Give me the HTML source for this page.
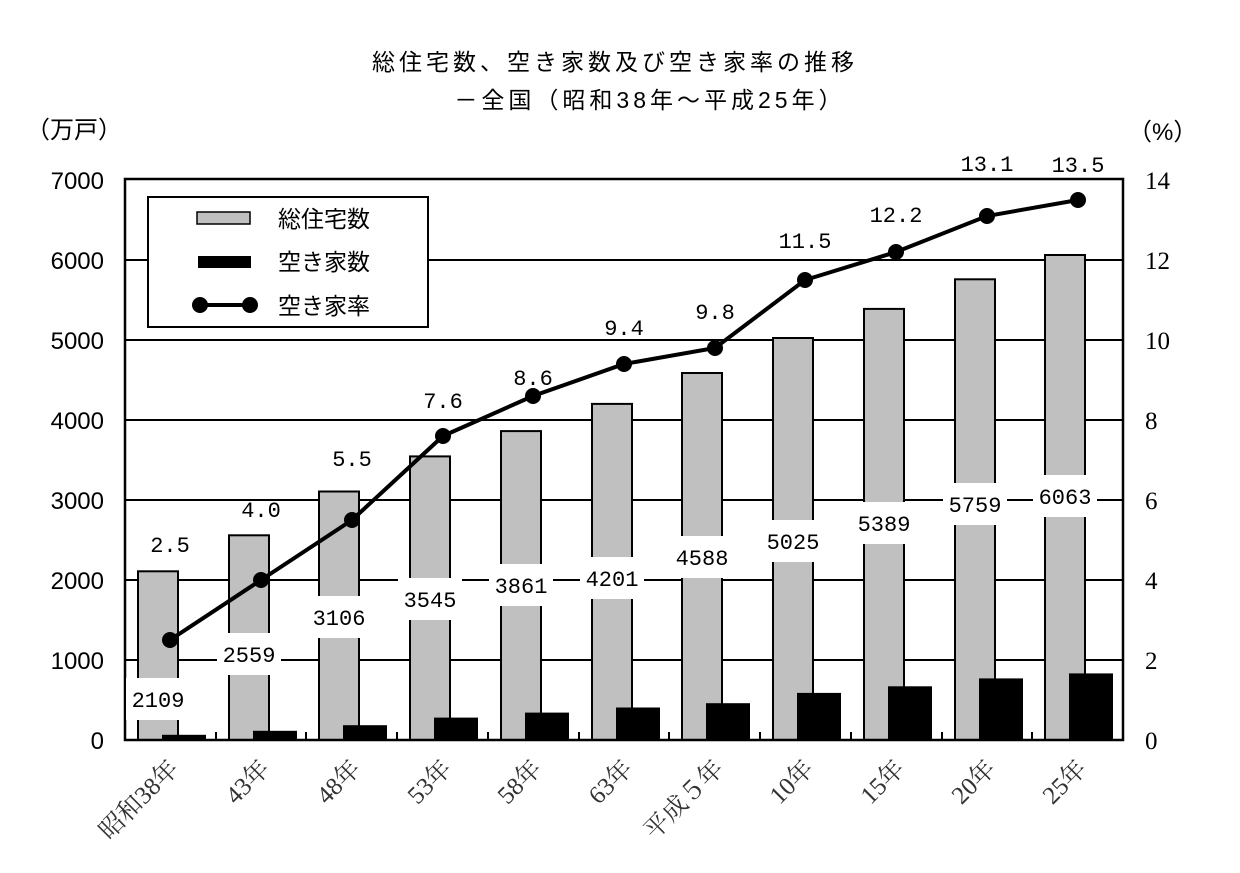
<!DOCTYPE html>
<html><head><meta charset="utf-8"><style>body{margin:0;background:#fff}svg{display:block}</style></head><body>
<svg width="1240" height="873" xmlns="http://www.w3.org/2000/svg" font-family="'Liberation Sans','Noto Sans CJK JP',sans-serif">
<rect width="1240" height="873" fill="#fff"/>
<text x="615" y="70" font-size="23" letter-spacing="4" text-anchor="middle">総住宅数、空き家数及び空き家率の推移</text>
<text x="650" y="108" font-size="23" letter-spacing="4" text-anchor="middle">－全国（昭和38年～平成25年）</text>
<text x="26" y="138" font-size="24">（万戸）</text>
<text x="1128" y="140" font-size="24">（%）</text>
<g font-size="24" text-anchor="end" font-family="'Liberation Sans Narrow','Liberation Sans',sans-serif">
<text x="104" y="749">0</text><text x="104" y="669">1000</text><text x="104" y="589">2000</text><text x="104" y="509">3000</text><text x="104" y="429">4000</text><text x="104" y="349">5000</text><text x="104" y="269">6000</text><text x="104" y="189">7000</text>
</g>
<g font-size="25" font-family="'Liberation Serif','Noto Serif CJK SC',serif">
<text x="1145" y="749">0</text><text x="1145" y="669">2</text><text x="1145" y="589">4</text><text x="1145" y="509">6</text><text x="1145" y="429">8</text><text x="1145" y="349">10</text><text x="1145" y="269">12</text><text x="1145" y="189">14</text>
</g>
<g stroke="#000" stroke-width="2">
<line x1="125" y1="660" x2="1123" y2="660"/><line x1="125" y1="580" x2="1123" y2="580"/><line x1="125" y1="500" x2="1123" y2="500"/><line x1="125" y1="420" x2="1123" y2="420"/><line x1="125" y1="340" x2="1123" y2="340"/><line x1="125" y1="260" x2="1123" y2="260"/>
</g>
<g stroke="#000" stroke-width="2" fill="#c0c0c0">
<rect x="138" y="571.3" width="40" height="168.7"/>
<rect x="229" y="535.3" width="40" height="204.7"/>
<rect x="319" y="491.5" width="40" height="248.5"/>
<rect x="410" y="456.4" width="40" height="283.6"/>
<rect x="501" y="431.1" width="40" height="308.9"/>
<rect x="592" y="403.9" width="40" height="336.1"/>
<rect x="682" y="373" width="40" height="367"/>
<rect x="773" y="338" width="40" height="402"/>
<rect x="864" y="308.9" width="40" height="431.1"/>
<rect x="955" y="279.3" width="40" height="460.7"/>
<rect x="1045" y="255" width="40" height="485"/>
</g>
<g stroke="#000" stroke-width="2" fill="#000">
<rect x="163" y="735.8" width="42" height="4.2"/>
<rect x="254" y="731.8" width="42" height="8.2"/>
<rect x="344" y="726.2" width="42" height="13.8"/>
<rect x="435" y="718.6" width="42" height="21.4"/>
<rect x="526" y="713.6" width="42" height="26.4"/>
<rect x="617" y="708.5" width="42" height="31.5"/>
<rect x="707" y="704.2" width="42" height="35.8"/>
<rect x="798" y="693.9" width="42" height="46.1"/>
<rect x="889" y="687.3" width="42" height="52.7"/>
<rect x="980" y="679.4" width="42" height="60.6"/>
<rect x="1070" y="674.4" width="42" height="65.6"/>
</g>
<g stroke="#000" stroke-width="2">
<line x1="216" y1="732" x2="216" y2="740"/><line x1="306" y1="732" x2="306" y2="740"/><line x1="397" y1="732" x2="397" y2="740"/><line x1="488" y1="732" x2="488" y2="740"/><line x1="579" y1="732" x2="579" y2="740"/><line x1="669" y1="732" x2="669" y2="740"/><line x1="760" y1="732" x2="760" y2="740"/><line x1="851" y1="732" x2="851" y2="740"/><line x1="942" y1="732" x2="942" y2="740"/><line x1="1032" y1="732" x2="1032" y2="740"/>
</g>
<rect x="125" y="179" width="998" height="561" fill="none" stroke="#000" stroke-width="2.5"/>
<g fill="#fff">
<rect x="126" y="678" width="64" height="42"/>
<rect x="217" y="633" width="64" height="42"/>
<rect x="307" y="596" width="64" height="42"/>
<rect x="398" y="578" width="64" height="42"/>
<rect x="489" y="564" width="64" height="42"/>
<rect x="580" y="557" width="64" height="42"/>
<rect x="670" y="536" width="64" height="42"/>
<rect x="761" y="520" width="64" height="42"/>
<rect x="852" y="502" width="64" height="42"/>
<rect x="943" y="483" width="64" height="42"/>
<rect x="1033" y="475" width="64" height="42"/>
</g>
<g font-size="22" text-anchor="middle" font-family="'Liberation Mono',monospace">
<text x="158" y="707">2109</text>
<text x="249" y="662">2559</text>
<text x="339" y="625">3106</text>
<text x="430" y="607">3545</text>
<text x="521" y="593">3861</text>
<text x="612" y="586">4201</text>
<text x="702" y="565">4588</text>
<text x="793" y="549">5025</text>
<text x="884" y="531">5389</text>
<text x="975" y="512">5759</text>
<text x="1065" y="504">6063</text>
<text x="170" y="552">2.5</text>
<text x="261" y="517">4.0</text>
<text x="352" y="466">5.5</text>
<text x="443" y="408">7.6</text>
<text x="533" y="385">8.6</text>
<text x="624" y="335">9.4</text>
<text x="715" y="319">9.8</text>
<text x="805" y="248">11.5</text>
<text x="896" y="222">12.2</text>
<text x="987" y="171">13.1</text>
<text x="1078" y="172">13.5</text>
</g>
<polyline points="170,640 261,580 352,520 443,436 533,396 624,364 715,348 805,280 896,252 987,216 1078,200" fill="none" stroke="#000" stroke-width="4"/>
<g fill="#000">
<circle cx="170" cy="640" r="8"/><circle cx="261" cy="580" r="8"/><circle cx="352" cy="520" r="8"/><circle cx="443" cy="436" r="8"/><circle cx="533" cy="396" r="8"/><circle cx="624" cy="364" r="8"/><circle cx="715" cy="348" r="8"/><circle cx="805" cy="280" r="8"/><circle cx="896" cy="252" r="8"/><circle cx="987" cy="216" r="8"/><circle cx="1078" cy="200" r="8"/>
</g>
<rect x="148" y="197" width="280" height="130" fill="#fff" stroke="#000" stroke-width="2"/>
<rect x="197" y="212" width="53" height="12" fill="#c0c0c0" stroke="#000" stroke-width="1.5"/>
<rect x="198" y="256" width="53" height="12" fill="#000"/>
<line x1="200" y1="305" x2="250" y2="305" stroke="#000" stroke-width="4"/>
<circle cx="200" cy="305" r="8"/><circle cx="250" cy="305" r="8"/>
<g font-size="23"><text x="278" y="227">総住宅数</text><text x="278" y="270">空き家数</text><text x="278" y="314">空き家率</text></g>
<g font-size="25" font-family="'Liberation Serif','Noto Serif CJK JP',serif" fill="#333" text-anchor="end">
<text transform="translate(180,770) rotate(-45)">昭和38年</text>
<text transform="translate(271,770) rotate(-45)">43年</text>
<text transform="translate(362,770) rotate(-45)">48年</text>
<text transform="translate(453,770) rotate(-45)">53年</text>
<text transform="translate(543,770) rotate(-45)">58年</text>
<text transform="translate(634,770) rotate(-45)">63年</text>
<text transform="translate(725,770) rotate(-45)">平成５年</text>
<text transform="translate(815,770) rotate(-45)">10年</text>
<text transform="translate(906,770) rotate(-45)">15年</text>
<text transform="translate(997,770) rotate(-45)">20年</text>
<text transform="translate(1088,770) rotate(-45)">25年</text>
</g>
</svg>
</body></html>
